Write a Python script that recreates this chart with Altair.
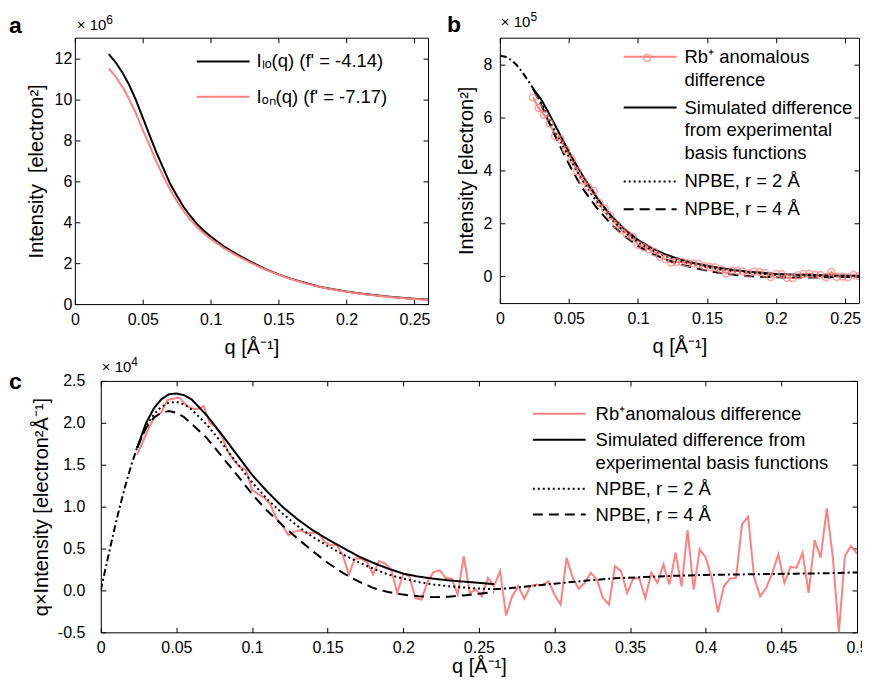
import altair as alt
import pandas as pd

FONT = "Liberation Sans"
PINK = "#ff8080"

# ---------------- Panel a : I(q) x 1e6 ----------------
qa = [0.025, 0.03, 0.035, 0.04, 0.045, 0.05, 0.055, 0.06, 0.065, 0.07, 0.075, 0.08,
      0.085, 0.09, 0.095, 0.1, 0.11, 0.12, 0.13, 0.14, 0.15, 0.16, 0.17, 0.18, 0.19,
      0.2, 0.21, 0.22, 0.23, 0.24, 0.25, 0.26]
I_lo = [12.2, 11.8, 11.3, 10.7, 9.95, 9.1, 8.25, 7.4, 6.65, 5.9, 5.3, 4.75, 4.3, 3.9,
        3.58, 3.3, 2.8, 2.4, 2.05, 1.72, 1.45, 1.22, 1.03, 0.85, 0.72, 0.61, 0.52, 0.44,
        0.37, 0.31, 0.26, 0.22]
I_on = [11.5, 11.1, 10.6, 10.0, 9.3, 8.5, 7.75, 6.95, 6.25, 5.6, 5.05, 4.55, 4.12, 3.76,
        3.45, 3.18, 2.72, 2.34, 2.0, 1.69, 1.43, 1.2, 1.01, 0.84, 0.71, 0.6, 0.51, 0.43,
        0.36, 0.3, 0.25, 0.21]
lab_lo = "Iₗₒ(q) (f' = -4.14)"
lab_on = "Iₒₙ(q) (f' = -7.17)"

# ---------------- Panels b / c ----------------
# Rb+ anomalous difference, read as q x I (units 1e4)
q_pk = [0.024, 0.028, 0.032, 0.036, 0.04, 0.044, 0.048, 0.052, 0.056, 0.06,
        0.064, 0.068, 0.072, 0.076, 0.08, 0.084, 0.088, 0.092, 0.096, 0.1,
        0.104, 0.108, 0.112, 0.116, 0.12, 0.124, 0.128, 0.132, 0.136, 0.14,
        0.144, 0.148, 0.152, 0.156, 0.16, 0.164, 0.168, 0.172, 0.176, 0.18,
        0.184, 0.188, 0.192, 0.196, 0.2, 0.204, 0.208, 0.212, 0.216, 0.22,
        0.224, 0.228, 0.232, 0.236, 0.24, 0.244, 0.248, 0.252, 0.256, 0.26,
        0.264, 0.268, 0.272, 0.276, 0.28, 0.284, 0.288, 0.292, 0.296, 0.3,
        0.304, 0.308, 0.312, 0.316, 0.32, 0.324, 0.328, 0.332, 0.336, 0.34,
        0.344, 0.348, 0.352, 0.356, 0.36, 0.364, 0.368, 0.372, 0.376, 0.38,
        0.384, 0.388, 0.392, 0.396, 0.4, 0.404, 0.408, 0.412, 0.416, 0.42,
        0.424, 0.428, 0.432, 0.436, 0.44, 0.444, 0.448, 0.452, 0.456, 0.46,
        0.464, 0.468, 0.472, 0.476, 0.48, 0.484, 0.488, 0.492, 0.496, 0.5]
c_pk = [1.62, 1.78, 1.95, 2.08, 2.12, 2.27, 2.29, 2.30, 2.22, 2.17,
        2.16, 2.20, 2.00, 1.95, 1.84, 1.66, 1.55, 1.47, 1.44, 1.20,
        1.15, 1.11, 1.03, 0.86, 0.78, 0.66, 0.70, 0.72, 0.68, 0.69,
        0.68, 0.58, 0.54, 0.54, 0.42, 0.19, 0.38, 0.38, 0.34, 0.19,
        0.35, 0.32, 0.25, -0.03, 0.20, 0.17, -0.09, -0.11, 0.10, 0.22,
        0.24, 0.15, 0.14, -0.05, 0.41, -0.03, 0.01, -0.07, 0.15, 0.05,
        0.23, -0.30, -0.07, 0.05, -0.10, 0.05, 0.07, 0.06, 0.11, -0.05,
        -0.17, 0.39, 0.15, 0.02, 0.09, 0.21, 0.13, -0.09, -0.17, 0.29,
        0.23, -0.03, 0.14, 0.15, -0.09, 0.21, 0.09, 0.31, 0.07, 0.45,
        0.05, 0.72, 0.01, 0.49, 0.39, 0.15, -0.26, 0.05, 0.14, 0.15,
        0.79, 0.88, 0.15, -0.07, 0.03, 0.21, 0.43, 0.09, 0.28, 0.27,
        0.45, -0.03, 0.60, 0.39, 0.98, 0.40, -0.50, 0.41, 0.53, 0.44]

# model curves, read as q x I (units 1e4)
q_cv = [0.024, 0.03, 0.035, 0.04, 0.045, 0.05, 0.055, 0.06, 0.07, 0.08, 0.09, 0.1,
        0.11, 0.12, 0.13, 0.14, 0.15, 0.16, 0.17, 0.18, 0.19, 0.2, 0.21, 0.22, 0.23,
        0.24, 0.25, 0.26]
c_sim = [1.70, 2.0, 2.17, 2.28, 2.34, 2.35, 2.33, 2.28, 2.09, 1.86, 1.62, 1.38, 1.18,
         1.0, 0.85, 0.72, 0.61, 0.51, 0.41, 0.33, 0.26, 0.2, 0.165, 0.14, 0.12, 0.105,
         0.09, 0.075]
c_np2 = [1.70, 1.96, 2.1, 2.19, 2.24, 2.25, 2.22, 2.16, 1.98, 1.76, 1.52, 1.29, 1.09,
         0.92, 0.77, 0.64, 0.53, 0.43, 0.34, 0.26, 0.19, 0.14, 0.1, 0.07, 0.05, 0.035,
         0.022, 0.015]
c_np4 = [1.70, 1.94, 2.06, 2.12, 2.14, 2.12, 2.07, 1.99, 1.82, 1.6, 1.38, 1.15, 0.95,
         0.78, 0.62, 0.47, 0.33, 0.21, 0.11, 0.03, -0.02, -0.05, -0.07, -0.08, -0.075,
         -0.06, -0.04, -0.02]

# extrapolations (dash-dot): low q read as I (1e5), high q read as q x I (1e4)
q_ddl = [0.0, 0.004, 0.008, 0.012, 0.016, 0.02, 0.024]
b_ddl = [8.32, 8.28, 8.17, 7.98, 7.72, 7.42, 7.1]
q_ddh = [0.26, 0.27, 0.28, 0.3, 0.32, 0.34, 0.36, 0.38, 0.4, 0.42, 0.44, 0.46, 0.48, 0.5]
c_ddh = [0.015, 0.025, 0.045, 0.08, 0.115, 0.145, 0.16, 0.175, 0.185, 0.19, 0.195,
         0.2, 0.205, 0.215]

lab_rb_b = "Rb⁺ anomalous|\u00a0difference"
lab_sim_b = "Simulated difference|from experimental|basis functions"
lab_rb_c = "Rb⁺anomalous difference"
lab_sim_c = "Simulated difference from|experimental basis functions"
lab_n2 = "NPBE, r = 2 Å"
lab_n4 = "NPBE, r = 4 Å"

# ---------------- data frames ----------------
dfa = pd.DataFrame({"q": qa + qa, "v": I_lo + I_on,
                    "s": [lab_lo] * len(qa) + [lab_on] * len(qa)})


def to_I(q, c):  # q*I [1e4]  ->  I [1e5]
    return c / (10.0 * q)


rows_b = [(q, to_I(q, c), lab_rb_b) for q, c in zip(q_pk, c_pk) if q <= 0.2601]
for name, arr in [(lab_sim_b, c_sim), (lab_n2, c_np2), (lab_n4, c_np4)]:
    rows_b += [(q, to_I(q, c), name) for q, c in zip(q_cv, arr)]
dfb = pd.DataFrame(rows_b, columns=["q", "v", "s"])
dfb_pts = dfb[dfb["s"] == lab_rb_b].assign(k="rb")
dfb_dd = pd.DataFrame({"q": q_ddl, "v": b_ddl})

rows_c = [(q, c, lab_rb_c) for q, c in zip(q_pk, c_pk)]
for name, arr in [(lab_sim_c, c_sim), (lab_n2, c_np2), (lab_n4, c_np4)]:
    rows_c += [(q, c, name) for q, c in zip(q_cv, arr)]
dfc = pd.DataFrame(rows_c, columns=["q", "v", "s"])
dfc_dd = pd.DataFrame({"q": q_ddl + q_ddh,
                       "v": [10.0 * q * b for q, b in zip(q_ddl, b_ddl)] + c_ddh,
                       "seg": ["lo"] * len(q_ddl) + ["hi"] * len(q_ddh)})

# ---------------- helpers ----------------
def sc(dom):
    return alt.Scale(domain=dom, nice=False, zero=False)


AXC = dict(grid=False, domain=False, ticks=True, tickSize=5, offset=-5,
           tickColor="black", tickWidth=1, labelFlush=False, labelOverlap=False)


def x_main(vals, fmt, title, tpad):
    return alt.Axis(orient="bottom", values=vals, format=fmt, title=title,
                    labelPadding=7, titlePadding=tpad, **AXC)


def y_main(vals, fmt, title, lpad, tpad, expr=None):
    kw = dict(orient="left", values=vals, format=fmt, title=title,
              labelPadding=lpad, titlePadding=tpad, **AXC)
    if expr:
        kw["labelExpr"] = expr
    return alt.Axis(**kw)


def x_top(vals):
    return alt.Axis(orient="top", values=vals, labels=False, title=None, **AXC)


def y_right(vals):
    return alt.Axis(orient="right", values=vals, labels=False, title=None, **AXC)


def txt(text, x, y, size, bold=False):
    return alt.Chart(pd.DataFrame({"t": [text]})).mark_text(
        align="left", baseline="alphabetic", font=FONT, fontSize=size,
        fontWeight="bold" if bold else "normal", color="black"
    ).encode(text="t:N", x=alt.value(x), y=alt.value(y))


# legend line symbol: 53 px long stroke drawn with a small symbol size
LINE_SYM = "M-5,0L5,0"
SYM_SIZE = 112.36


def legend_line(lx, ly, loff, rpad):
    return alt.Legend(orient="none", legendX=lx, legendY=ly, title=None, symbolType=LINE_SYM,
                      symbolSize=SYM_SIZE, symbolStrokeWidth=2, labelOffset=loff,
                      rowPadding=rpad, labelExpr="split(datum.label, '|')")


IND = dict(color="independent", strokeDash="independent", shape="independent")

# ---------------- panel a ----------------
XA, YA = [0, 0.26], [0, 13]
xt_ab = [0, 0.05, 0.1, 0.15, 0.2, 0.25]
yt_a = [0, 2, 4, 6, 8, 10, 12]
lines_a = alt.Chart(dfa).mark_line(strokeWidth=2, clip=True).encode(
    x=alt.X("q:Q", scale=sc(XA), axis=x_main(xt_ab, "~g", "q [Å⁻¹]", 11)),
    y=alt.Y("v:Q", scale=sc(YA), axis=y_main(yt_a, "d", "Intensity\u00a0 [electron²]", 3, 8)),
    color=alt.Color("s:N", scale=alt.Scale(domain=[lab_lo, lab_on], range=["black", PINK]),
                    legend=legend_line(139.4, 14.5, 24.2, 16.5)),
)
frame_a = alt.Chart(dfa).mark_line(opacity=0).encode(
    x=alt.X("q:Q", scale=sc(XA), axis=x_top(xt_ab)),
    y=alt.Y("v:Q", scale=sc(YA), axis=y_right(yt_a)), detail="s:N")
pa = alt.layer(lines_a, frame_a, txt("a", -66, -5, 23, True), txt("× 10", 2, -8, 15),
               txt("6", 31.6, -14, 12)).properties(width=354, height=267)

# ---------------- panel b ----------------
XB, YB = [0, 0.26], [-1, 9]
yt_b = [0, 2, 4, 6, 8]
dom_b = [lab_rb_b, lab_sim_b, lab_n2, lab_n4]
leg_b = legend_line(141.4, 9.75, 25.2, 9)
lines_b = alt.Chart(dfb).mark_line(strokeWidth=2, clip=True).encode(
    x=alt.X("q:Q", scale=sc(XB), axis=x_main(xt_ab, "~g", "q [Å⁻¹]", 11)),
    y=alt.Y("v:Q", scale=sc(YB), axis=y_main(yt_b, "d", "Intensity [electron²]", 8, 7)),
    color=alt.Color("s:N", scale=alt.Scale(domain=dom_b, range=[PINK, "black", "black", "black"]),
                    legend=leg_b),
    strokeDash=alt.StrokeDash("s:N", scale=alt.Scale(domain=dom_b, range=[[1, 0], [1, 0], [2, 3], [10, 6]]),
                              legend=leg_b),
)
pts_b = alt.Chart(dfb_pts).mark_point(shape="circle", filled=False, size=50, strokeWidth=1.5,
                                       color=PINK, clip=True).encode(
    x=alt.X("q:Q", scale=sc(XB), axis=None), y=alt.Y("v:Q", scale=sc(YB), axis=None),
    shape=alt.Shape("k:N", scale=alt.Scale(domain=["rb"], range=["circle"]),
                    legend=alt.Legend(orient="none", legendX=143.2, legendY=15.7, title=None,
                                      labelExpr="''", labelFontSize=1, symbolSize=50,
                                      symbolStrokeColor=PINK, symbolFillColor="transparent",
                                      symbolStrokeWidth=1.5)))
dd_b = alt.Chart(dfb_dd).mark_line(color="black", strokeWidth=2, strokeDash=[7, 3, 2, 3], clip=True).encode(
    x=alt.X("q:Q", scale=sc(XB), axis=None), y=alt.Y("v:Q", scale=sc(YB), axis=None))
frame_b = alt.Chart(dfb).mark_line(opacity=0).encode(
    x=alt.X("q:Q", scale=sc(XB), axis=x_top(xt_ab)),
    y=alt.Y("v:Q", scale=sc(YB), axis=y_right(yt_b)), detail="s:N")
pb = alt.layer(lines_b, pts_b, dd_b, frame_b, txt("b", -53, -6, 23, True), txt("× 10", 1, -11, 15),
               txt("5", 30.6, -17, 12)).properties(width=360, height=266)

# ---------------- panel c ----------------
XC, YC = [0, 0.5], [-0.5, 2.5]
xt_c = [0, 0.05, 0.1, 0.15, 0.2, 0.25, 0.3, 0.35, 0.4, 0.45, 0.5]
yt_c = [-0.5, 0, 0.5, 1.0, 1.5, 2.0, 2.5]
dom_c = [lab_rb_c, lab_sim_c, lab_n2, lab_n4]
leg_c = legend_line(450.3, 23.75, 27.2, 7)
lines_c = alt.Chart(dfc).mark_line(strokeWidth=2, clip=True).encode(
    x=alt.X("q:Q", scale=sc(XC), axis=x_main(xt_c, "~g", "q [Å⁻¹]", 1)),
    y=alt.Y("v:Q", scale=sc(YC), axis=y_main(yt_c, ".1f", "q×Intensity [electron²Å⁻¹]", 16, 6,
                                             expr="replace(datum.label, '−', '-')")),
    color=alt.Color("s:N", scale=alt.Scale(domain=dom_c, range=[PINK, "black", "black", "black"]),
                    legend=leg_c),
    strokeDash=alt.StrokeDash("s:N", scale=alt.Scale(domain=dom_c, range=[[1, 0], [1, 0], [2, 3], [10, 6]]),
                              legend=leg_c),
)
dd_c = alt.Chart(dfc_dd).mark_line(color="black", strokeWidth=2, strokeDash=[7, 3, 2, 3], clip=True).encode(
    x=alt.X("q:Q", scale=sc(XC), axis=None), y=alt.Y("v:Q", scale=sc(YC), axis=None), detail="seg:N")
frame_c = alt.Chart(dfc).mark_line(opacity=0).encode(
    x=alt.X("q:Q", scale=sc(XC), axis=x_top(xt_c)),
    y=alt.Y("v:Q", scale=sc(YC), axis=y_right(yt_c)), detail="s:N")
pc = alt.layer(lines_c, dd_c, frame_c, txt("c", -92, 8, 23, True), txt("× 10", 1, -9, 15),
               txt("4", 30.6, -15, 12)).properties(width=758, height=252)

# invisible 1-px spacer that shifts panel c's plot area 26 px right of panel a's
spacer = alt.Chart(pd.DataFrame({"z": [0]})).mark_point(opacity=0).properties(
    width=1, height=1, view=alt.ViewBackground(stroke="transparent"))

row1 = alt.hconcat(pa, pb, spacing=15).resolve_scale(**IND).resolve_legend(**IND)
row2 = alt.hconcat(spacer, pc, spacing=25, bounds="flush").resolve_scale(**IND).resolve_legend(**IND)
chart = alt.vconcat(row1, row2, spacing=-4).resolve_scale(**IND).resolve_legend(**IND).properties(
    padding={"left": 0, "top": 1, "right": -7, "bottom": 0}
).configure(style={"guide-label": {"lineHeight": 23}}
).configure_view(stroke="black", strokeWidth=1).configure_axis(
    labelFont=FONT, titleFont=FONT, labelFontSize=16, titleFontSize=20,
    titleFontWeight="normal", labelColor="black", titleColor="black"
).configure_legend(labelFont=FONT, labelFontSize=18.5, labelColor="black", labelLimit=600,
                   padding=0, symbolStrokeWidth=2)

chart.save("out.html", embed_options={"renderer": "svg", "actions": False})
